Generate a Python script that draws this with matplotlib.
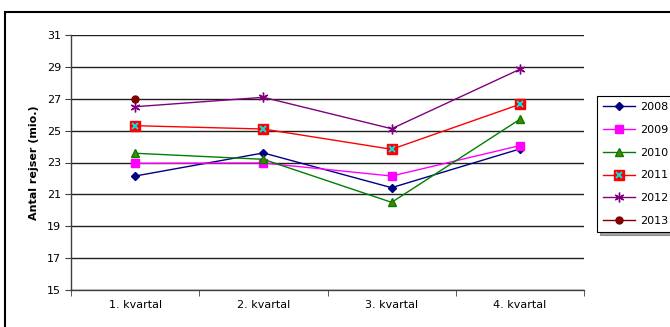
import matplotlib.pyplot as plt
from matplotlib.patches import Rectangle
from matplotlib.legend_handler import HandlerTuple

kvartaler = ["1. kvartal", "2. kvartal", "3. kvartal", "4. kvartal"]

rejser_2008 = [22.15, 23.6, 21.42, 23.85]
rejser_2009 = [22.95, 22.97, 22.15, 24.06]
rejser_2010 = [23.58, 23.2, 20.5, 25.71]
rejser_2011 = [25.31, 25.1, 23.83, 26.65]
rejser_2012 = [26.5, 27.09, 25.12, 28.85]
rejser_2013 = [27.0]

y_ticks = [15, 17, 19, 21, 23, 25, 27, 29, 31]

plt.rcParams['font.family'] = ['DejaVu Sans']
plt.rcParams['font.size'] = 8

fig = plt.figure(figsize=(6.7, 3.27), dpi=100)
ax = fig.add_axes([71 / 670, 1 - 290 / 327, (584 - 71) / 670, (290 - 35) / 327])

x = range(1, 5)

h08, = ax.plot(x, rejser_2008, color='#000080', lw=1, marker='D', ms=4.2,
               mfc='#000080', mec='#000080', label='2008')
h09, = ax.plot(x, rejser_2009, color='#FF00FF', lw=1, marker='s', ms=5.5,
               mfc='#FF00FF', mec='#FF00FF', label='2009')
h10, = ax.plot(x, rejser_2010, color='#008000', lw=1, marker='^', ms=6,
               mfc='#5a7d00', mec='#008000', label='2010')
h11, = ax.plot(x, rejser_2011, color='#FF0000', lw=1, marker='s', ms=7,
               mfc='#FF0000', mec='#FF0000', label='2011')
h11x, = ax.plot(x, rejser_2011, ls='none', marker='x', ms=5, mew=1.4,
                color='#00E5E5')
h12, = ax.plot(x, rejser_2012, color='#800080', lw=1, marker=(6, 2, 0), ms=7,
               mew=1, mec='#800080', label='2012')
h13, = ax.plot(range(1, 1 + len(rejser_2013)), rejser_2013, color='#800000', lw=1,
               marker='o', ms=5, mfc='#800000', mec='#800000', label='2013')

ax.set_xlim(0.5, 4.5)
ax.set_ylim(15, 31)
ax.set_yticks(y_ticks)
ax.set_xticks(list(x))
ax.set_xticklabels(kvartaler)
ax.set_xticks([0.5, 1.5, 2.5, 3.5, 4.5], minor=True)
ax.tick_params(axis='x', which='major', length=0, pad=7)
ax.tick_params(axis='x', which='minor', length=4, direction='out', color='#404040')
ax.tick_params(axis='y', length=4, direction='out', color='#404040', pad=3)

ax.grid(axis='y', color='#202020', lw=1)
ax.set_axisbelow(True)
for side in ['top', 'right']:
    ax.spines[side].set_visible(False)
for side in ['left', 'bottom']:
    ax.spines[side].set_color('#404040')
    ax.spines[side].set_linewidth(1)

ax.set_ylabel('Antal rejser (mio.)', fontweight='bold', labelpad=6)

leg = fig.legend([h08, h09, h10, (h11, h11x), h12, h13],
                 ['2008', '2009', '2010', '2011', '2012', '2013'],
                 handler_map={tuple: HandlerTuple(ndivide=1)},
                 loc='upper left', bbox_to_anchor=(597 / 670, 1 - 96 / 327),
                 borderaxespad=0, frameon=True, fancybox=False, shadow=True,
                 handlelength=2.9, handletextpad=0.4, labelspacing=1.15,
                 borderpad=0.55)
leg.get_frame().set_edgecolor('black')
leg.get_frame().set_linewidth(0.8)

# ydre ramme om diagrammet
fig.add_artist(Rectangle((5 / 670, -0.2), 1.2, 1.2 - 12 / 327,
                         transform=fig.transFigure, fill=False,
                         lw=1.5, ec='black', clip_on=False))

fig.savefig('out.png', dpi=100)
